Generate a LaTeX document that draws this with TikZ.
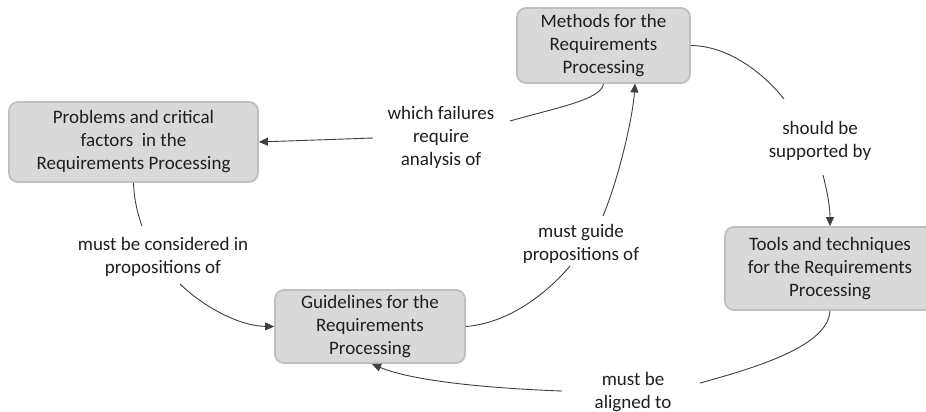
\documentclass[tikz,border=0pt]{standalone}
\usepackage{fontspec}
\setmainfont{Carlito}
\usetikzlibrary{arrows.meta}
\definecolor{boxfill}{HTML}{D9D9D9}
\definecolor{boxborder}{HTML}{BFBFBF}
\definecolor{txt}{HTML}{1F1F1F}
\definecolor{linkc}{HTML}{404040}
\begin{document}
\begin{tikzpicture}[x=1pt,y=-1pt,
  box/.style={draw=boxborder, line width=1.8pt, fill=boxfill, rounded corners=9pt,
    align=center, font=\fontsize{19}{23}\selectfont, text=txt, inner sep=0pt},
  lbl/.style={align=center, font=\fontsize{19}{23}\selectfont, text=txt, inner sep=1pt},
  link/.style={draw=linkc, line width=0.9pt},
  arr/.style={link, -{Triangle[length=9pt,width=8pt]}}]
\useasboundingbox (0,0) rectangle (926,412);
\fill[white] (0,0) rectangle (926,412);
% boxes
\node[box, minimum width=173pt, minimum height=75pt] (meth) at (603.5,45.5) {Methods for the\\Requirements\\Processing};
\node[box, minimum width=249pt, minimum height=80pt] (prob) at (133.5,142) {Problems and critical\\factors\ \ in the\\Requirements Processing};
\node[box, minimum width=190pt, minimum height=73pt] (guide) at (370,326.5) {Guidelines for the\\Requirements\\Processing};
\node[box, minimum width=210pt, minimum height=83pt] (tools) at (830,268.5) {Tools and techniques\\for the Requirements\\Processing};
% labels
\node[lbl] (l1) at (441,137) {which failures\\require\\analysis of};
\node[lbl] (l2) at (820,141) {should be\\supported by};
\node[lbl] (l3) at (163,257) {must be considered in\\propositions of};
\node[lbl] (l4) at (581,244) {must guide\\propositions of};
\node[lbl] (l5) at (633,392) {must be\\aligned to};
% connector end points near labels
\coordinate (a1) at (510,121);
\coordinate (a2) at (373,138);
\coordinate (b1) at (570,266);
\coordinate (b2) at (603,216);
\coordinate (b3) at (635,83.5);
\coordinate (c1) at (784,99);
\coordinate (c2) at (823,175);
\coordinate (d1) at (142,226);
\coordinate (d2) at (180,284);
\coordinate (e1) at (700,383);
\coordinate (e2) at (562,391);
\coordinate (e3) at (372,364);
% connectors
\draw[link] (meth.south) .. controls (601,100) and (555,108) .. (a1);
\draw[arr] (a2) -- (prob.east);
\draw[link] (guide.east) .. controls (510,323) and (548,292) .. (b1);
\draw[arr] (b2) .. controls (620,175) and (633,115) .. (b3);
\draw[link] (meth.east) .. controls (730,46) and (765,75) .. (c1);
\draw[arr] (c2) .. controls (828,195) and (830,208) .. (tools.north);
\draw[link] (prob.south) .. controls (134,200) and (138,215) .. (d1);
\draw[arr] (d2) .. controls (205,308) and (240,326) .. (guide.west);
\draw[link] (tools.south) .. controls (828,345) and (762,366) .. (e1);
\draw[arr] (e2) .. controls (480,388) and (410,380) .. (e3);
\end{tikzpicture}
\end{document}
